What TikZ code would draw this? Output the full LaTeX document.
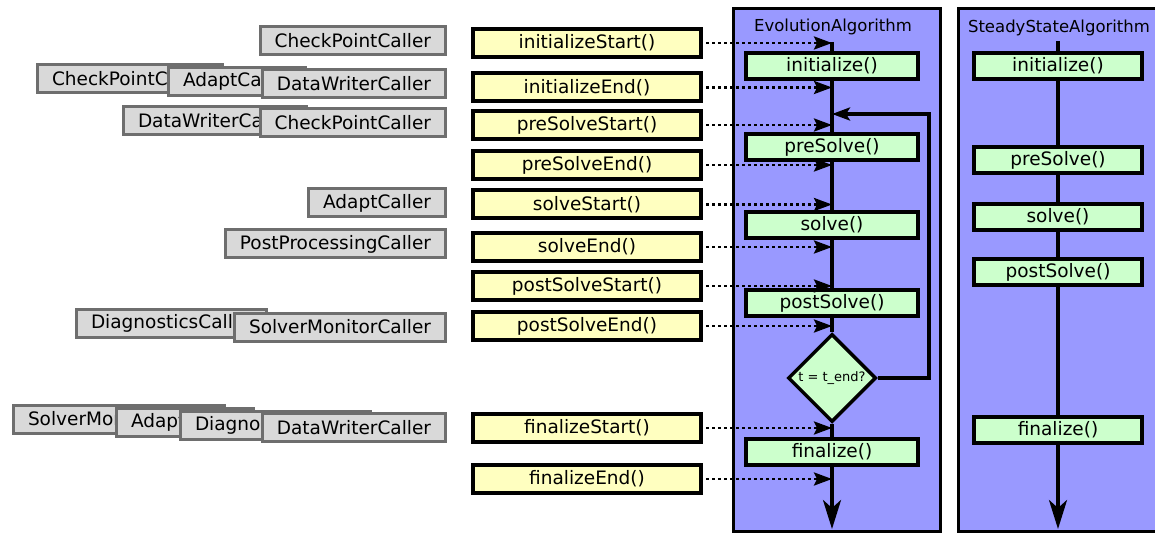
\documentclass[tikz,border=0pt]{standalone}
\usepackage{fontspec}
\setmainfont{DejaVu Sans}
\usetikzlibrary{arrows.meta,shapes.geometric}

\definecolor{algoblue}{RGB}{153,153,255}
\definecolor{hookyellow}{RGB}{255,255,192}
\definecolor{stagegreen}{RGB}{204,255,204}
\definecolor{callergray}{RGB}{217,217,217}
\definecolor{callerline}{RGB}{110,110,110}

\begin{document}
\begin{tikzpicture}[
  x=1pt, y=-1pt,
  caller/.style={rectangle, draw=callerline, line width=3pt, fill=callergray, minimum height=28pt, inner xsep=14.5pt, inner ysep=0pt, font=\fontsize{18.5}{22}\selectfont},
  hook/.style={rectangle, draw, line width=4pt, fill=hookyellow, minimum width=228pt, minimum height=28pt, inner sep=0pt, font=\fontsize{18.5}{22}\selectfont},
  stage/.style={rectangle, draw, line width=4pt, fill=stagegreen, minimum width=172pt, minimum height=26pt, inner sep=0pt, font=\fontsize{18.5}{22}\selectfont},
  test/.style={diamond, draw, line width=3.5pt, fill=stagegreen, minimum width=88pt, minimum height=88pt, inner sep=0pt, font=\fontsize{13}{15}\selectfont},
  algo/.style={draw, line width=3.5pt, fill=algoblue},
  title/.style={inner sep=0pt, font=\fontsize{16.5}{19}\selectfont},
  flow/.style={line width=3.5pt},
  notify/.style={-{Stealth[length=18pt, width=13pt, inset=3pt]}, line width=2.8pt, dash pattern=on 3pt off 3pt, shorten <=3pt}
]
  \path[use as bounding box] (0,0) rectangle (1155,534);
  \clip (0,0) rectangle (1155,534);

  % the two algorithm panels
  \draw[algo] (733.5,8.5) rectangle (940.5,531.5);
  \draw[algo] (958.5,8.5) rectangle (1170,531.5);
  \node[title] (evoname) at (833,27) {EvolutionAlgorithm};
  \node[title] (ssname) at (1059,28) {SteadyStateAlgorithm};

  % callers hooked on each event (later ones lie on top)
  \node[caller, anchor=east] (cp1) at (447,41) {CheckPointCaller};
  \node[caller, anchor=west] (cp2) at (36,78.5) {CheckPointCaller};
  \node[caller, anchor=west] (ad1) at (167,81.5) {AdaptCaller};
  \node[caller, anchor=east] (dw1) at (447,83.5) {DataWriterCaller};
  \node[caller, anchor=west] (dw2) at (122,121) {DataWriterCaller};
  \node[caller, anchor=east] (cp3) at (447,122.5) {CheckPointCaller};
  \node[caller, anchor=east] (ad2) at (447,203) {AdaptCaller};
  \node[caller, anchor=east] (pp1) at (447,244) {PostProcessingCaller};
  \node[caller, anchor=west] (dg1) at (75,323.5) {DiagnosticsCaller};
  \node[caller, anchor=east] (sm1) at (447,327) {SolverMonitorCaller};
  \node[caller, anchor=west] (sm2) at (12,419) {SolverMonitorCaller};
  \node[caller, anchor=west] (ad3) at (115,422) {AdaptCaller};
  \node[caller, anchor=west] (dg2) at (179,425) {DiagnosticsCaller};
  \node[caller, anchor=east] (dw3) at (447,427.5) {DataWriterCaller};

  % events
  \node[hook] (iniS) at (587,43) {initializeStart()};
  \node[hook] (iniE) at (587,87.5) {initializeEnd()};
  \node[hook] (preS) at (587,125) {preSolveStart()};
  \node[hook] (preE) at (587,165) {preSolveEnd()};
  \node[hook] (solS) at (587,204.5) {solveStart()};
  \node[hook] (solE) at (587,247) {solveEnd()};
  \node[hook] (postS) at (587,286) {postSolveStart()};
  \node[hook] (postE) at (587,326) {postSolveEnd()};
  \node[hook] (finS) at (587,428) {finalizeStart()};
  \node[hook] (finE) at (587,479) {finalizeEnd()};

  % evolution algorithm
  \coordinate (etop) at (832,42);
  \node[stage] (einit) at (832,66) {initialize()};
  \node[stage] (epre) at (832,147) {preSolve()};
  \node[stage] (esolve) at (832,225) {solve()};
  \node[stage] (epost) at (832,303) {postSolve()};
  \node[test] (edone) at (832,378) {t = t\_end?};
  \node[stage] (efin) at (832,452) {finalize()};
  \coordinate (eend) at (832,529);
  \coordinate (eback) at (929,114);

  \draw[flow] (etop) -- (einit);
  \draw[flow] (einit) -- (epre);
  \draw[flow] (epre) -- (esolve);
  \draw[flow] (esolve) -- (epost);
  \draw[flow] (epost) -- (edone);
  \draw[flow] (edone) -- (efin);
  \draw[flow, -{Stealth[length=29pt, width=18pt, inset=8pt]}] (efin) -- (eend);
  \draw[flow, -{Stealth[length=18pt, width=13pt, inset=4pt]}] (edone.east) -| (eback) -- (eback -| einit);

  % steady state algorithm
  \coordinate (stop) at (1058,41);
  \node[stage, minimum width=168pt] (sinit) at (1058,66) {initialize()};
  \node[stage, minimum width=168pt] (spre) at (1058,160) {preSolve()};
  \node[stage, minimum width=168pt] (ssolve) at (1058,217) {solve()};
  \node[stage, minimum width=168pt] (spost) at (1058,272) {postSolve()};
  \node[stage, minimum width=168pt] (sfin) at (1058,430) {finalize()};
  \coordinate (send) at (1058,529);

  \draw[flow] (stop) -- (sinit);
  \draw[flow] (sinit) -- (spre);
  \draw[flow] (spre) -- (ssolve);
  \draw[flow] (ssolve) -- (spost);
  \draw[flow] (spost) -- (sfin);
  \draw[flow, -{Stealth[length=29pt, width=18pt, inset=8pt]}] (sfin) -- (send);

  % events fired into the evolution loop
  \draw[notify] (iniS.east) -- (iniS.east -| einit);
  \draw[notify] (iniE.east) -- (iniE.east -| einit);
  \draw[notify] (preS.east) -- (preS.east -| einit);
  \draw[notify] (preE.east) -- (preE.east -| einit);
  \draw[notify] (solS.east) -- (solS.east -| einit);
  \draw[notify] (solE.east) -- (solE.east -| einit);
  \draw[notify] (postS.east) -- (postS.east -| einit);
  \draw[notify] (postE.east) -- (postE.east -| einit);
  \draw[notify] (finS.east) -- (finS.east -| einit);
  \draw[notify] (finE.east) -- (finE.east -| einit);
\end{tikzpicture}
\end{document}
